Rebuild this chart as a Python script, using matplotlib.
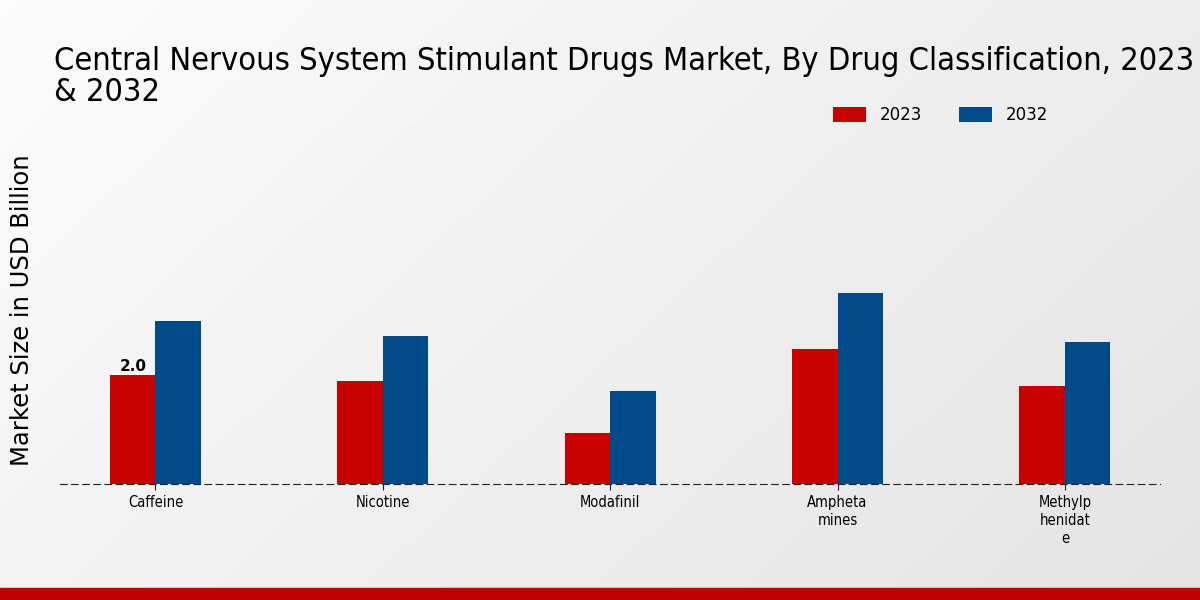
import numpy as np
import matplotlib.pyplot as plt

# data
categories = ["Caffeine", "Nicotine", "Modafinil", "Ampheta\nmines", "Methylp\nhenidat\ne"]
years = ["2023", "2032"]
values_2023 = [2.0, 1.89, 0.95, 2.48, 1.80]
values_2032 = [3.01, 2.72, 1.71, 3.52, 2.62]

colors = ["#c80000", "#004a8a"]

plt.rcParams['font.family'] = ['DejaVu Sans']

fig = plt.figure(figsize=(12, 6), dpi=100)

# background gradient, light at top-left
bg = fig.add_axes([0, 0, 1, 1], zorder=-10)
gx, gy = np.meshgrid(np.linspace(0, 1, 300), np.linspace(0, 1, 150))
grad = 0.985 - 0.095 * (0.65 * gx + 0.35 * gy)
bg.imshow(grad, cmap="gray", vmin=0, vmax=1, aspect="auto", extent=[0, 1, 0, 1], origin="upper")
bg.axis("off")
# red band at the bottom
fig.patches.append(plt.Rectangle((0, 0), 1, 0.02, transform=fig.transFigure, color="#c00000", zorder=5))

ax = fig.add_axes([0.05, 0.193, 0.917, 0.58])
ax.set_facecolor("none")

x = np.arange(len(categories))
w = 0.2
ax.bar(x - w / 2, values_2023, w, color=colors[0], label=years[0])
ax.bar(x + w / 2, values_2032, w, color=colors[1], label=years[1])

ax.text(x[0] - w / 2, values_2023[0] + 0.03, f"{values_2023[0]:.1f}", ha="center", va="bottom",
        fontsize=11, fontweight="bold")

ax.set_xlim(-0.42, 4.42)
ax.set_ylim(0, 6.4)
ax.set_xticks(x)
ax.set_xticklabels(categories, fontsize=10.5, fontstretch="condensed", linespacing=1.25)
ax.set_yticks([])
for s in ["top", "right", "left"]:
    ax.spines[s].set_visible(False)
ax.spines["bottom"].set_linestyle((0, (6, 4)))
ax.spines["bottom"].set_color("#222222")
ax.tick_params(axis="x", length=4, color="#222222")

ax.set_ylabel("Market Size in USD Billion", fontsize=17.5, labelpad=19)

fig.text(0.045, 0.82, "Central Nervous System Stimulant Drugs Market, By Drug Classification, 2023\n& 2032",
         fontsize=23.3, fontstretch="condensed", va="bottom", ha="left", linespacing=1.0)

ax.legend(loc="center", bbox_to_anchor=(0.8, 1.06), ncol=2, frameon=False, fontsize=12,
          handlelength=2.0, handleheight=1.0, columnspacing=2.2)

fig.savefig("out.png", dpi=100)
